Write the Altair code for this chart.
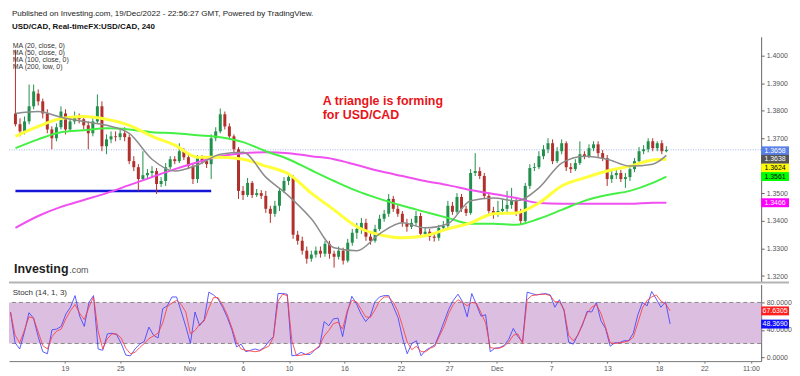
import altair as alt
import pandas as pd

# ---------------- data ----------------
# 8-hour candles, prices in pips (1/10000)
opens = [13790,13751,13725,13761,13816,13862,13834,13790,13732,13700,
         13740,13790,13732,13761,13776,13769,13747,13718,13761,13816,
         13671,13696,13707,13704,13718,13704,13617,13595,13552,13566,
         13574,13581,13534,13545,13595,13624,13617,13653,13631,13599,
         13552,13628,13617,13606,13700,13725,13787,13743,13707,13660,
         13509,13494,13538,13494,13501,13491,13444,13426,13455,13509,
         13545,13559,13350,13328,13292,13263,13278,13292,13281,13317,
         13281,13270,13292,13256,13321,13357,13371,13393,13343,13328,
         13371,13408,13426,13480,13444,13426,13393,13379,13393,13418,
         13353,13361,13343,13339,13375,13382,13455,13433,13487,13444,
         13429,13574,13581,13563,13491,13436,13426,13436,13444,13458,
         13473,13429,13400,13527,13592,13595,13635,13660,13682,13617,
         13653,13682,13595,13588,13610,13642,13635,13664,13678,13646,
         13628,13552,13566,13574,13552,13559,13588,13617,13653,13660,
         13689,13664,13682,13653]
closes = [13751,13725,13761,13816,13870,13834,13790,13732,13700,13740,
          13797,13732,13761,13776,13769,13747,13718,13761,13816,13671,
          13696,13707,13704,13718,13704,13617,13595,13552,13566,13574,
          13581,13534,13545,13595,13624,13617,13653,13631,13599,13552,
          13628,13617,13606,13700,13725,13787,13743,13707,13660,13509,
          13494,13538,13494,13501,13491,13444,13426,13455,13509,13545,
          13559,13350,13328,13292,13263,13278,13292,13281,13317,13281,
          13270,13292,13256,13321,13357,13371,13393,13343,13328,13371,
          13408,13426,13480,13444,13426,13393,13379,13393,13418,13353,
          13361,13343,13339,13375,13382,13455,13433,13487,13444,13429,
          13574,13581,13563,13491,13436,13426,13436,13444,13458,13473,
          13429,13400,13527,13592,13595,13635,13660,13682,13617,13653,
          13682,13595,13588,13610,13642,13635,13664,13678,13646,13628,
          13552,13566,13574,13552,13559,13588,13617,13653,13660,13689,
          13664,13682,13653,13658]
highs = [14021,13772,13779,13895,13895,13877,13844,13805,13743,13754,
         13816,13805,13779,13797,13790,13783,13761,13779,13859,13834,
         13714,13725,13725,13736,13740,13714,13635,13606,13653,13588,
         13599,13592,13559,13610,13635,13635,13682,13664,13646,13610,
         13639,13639,13628,13714,13740,13808,13797,13754,13714,13668,
         13527,13556,13545,13516,13512,13509,13455,13473,13520,13559,
         13570,13566,13364,13343,13307,13292,13307,13307,13328,13328,
         13292,13307,13303,13335,13371,13393,13411,13408,13357,13386,
         13422,13440,13498,13491,13458,13436,13408,13408,13436,13429,
         13375,13371,13357,13386,13400,13473,13469,13501,13498,13455,
         13588,13646,13595,13574,13501,13451,13473,13480,13509,13520,
         13483,13444,13538,13606,13610,13653,13675,13700,13696,13668,
         13696,13689,13610,13624,13689,13653,13678,13689,13689,13657,
         13639,13581,13588,13585,13574,13599,13628,13668,13675,13700,
         13700,13689,13693,13671]
lows = [13743,13707,13714,13751,13805,13819,13772,13718,13660,13689,
        13732,13714,13725,13751,13754,13732,13660,13707,13754,13653,
        13642,13682,13689,13693,13689,13606,13581,13509,13545,13552,
        13559,13498,13523,13527,13588,13606,13610,13621,13588,13534,
        13538,13606,13592,13552,13689,13718,13732,13696,13646,13480,
        13476,13487,13483,13487,13480,13429,13393,13415,13436,13501,
        13530,13335,13314,13278,13245,13252,13267,13267,13270,13263,
        13231,13260,13242,13249,13310,13335,13353,13328,13314,13321,
        13364,13397,13415,13433,13415,13379,13361,13371,13382,13339,
        13343,13328,13325,13328,13364,13371,13422,13426,13433,13418,
        13422,13563,13552,13480,13426,13408,13415,13422,13429,13444,
        13418,13386,13393,13516,13581,13588,13624,13646,13606,13610,
        13642,13581,13574,13581,13603,13624,13628,13653,13631,13617,
        13527,13538,13552,13541,13520,13545,13577,13606,13642,13649,
        13653,13653,13642,13649]

# moving averages, read every 5 bars
ma_bars = [0,5,10,15,20,25,30,35,40,45,50,55,60,65,70,75,80,85,90,95,
           100,105,110,115,120,125,130,135,140,143]
ma20 = [13790,13797,13776,13761,13747,13718,13624,13581,13603,13642,
        13649,13559,13491,13408,13303,13292,13353,13393,13375,13390,
        13473,13483,13473,13520,13610,13635,13624,13599,13606,13638]
ma50 = [13707,13743,13772,13779,13769,13747,13707,13675,13631,13631,
        13624,13599,13570,13501,13440,13379,13350,13339,13346,13371,
        13393,13426,13429,13465,13527,13556,13581,13599,13621,13624]
ma100 = [13664,13696,13722,13729,13736,13732,13722,13718,13711,13704,
         13686,13653,13624,13584,13545,13509,13480,13455,13433,13411,
         13390,13390,13386,13408,13440,13473,13494,13509,13538,13561]
ma200 = [13375,13418,13451,13476,13501,13530,13559,13588,13613,13635,
         13646,13649,13646,13635,13624,13603,13581,13563,13545,13530,
         13512,13498,13483,13465,13462,13462,13462,13462,13466,13466]

# stochastic (14, 1, 3): %K (blue) and %D (red), one value per bar
stoch_k = [66,21,12,36,65,57,30,8,5,40, 41,45,63,73,90,60,45,80,90,12,
           10,34,35,33,20,3,2,12,19,23, 44,32,28,71,75,88,88,67,45,20,
           66,46,55,95,91,85,73,58,40,15, 19,8,10,12,10,14,23,30,93,93,
           92,2,3,7,4,4,11,15,52,46, 56,57,30,65,89,78,63,52,60,81,
           88,90,90,74,58,28,5,20,24,2, 10,14,18,34,52,70,83,92,81,59,
           93,77,60,62,8,13,14,17,26,42, 30,22,95,93,91,92,93,91,73,84,
           68,22,19,33,47,67,66,80,53,42, 16,21,21,24,24,35,62,80,75,96,
           85,73,81,48.369]
stoch_d = [66,32,21,39,59,57,37,17,12,30, 38,41,56,68,77,64,55,73,88,38,
           12,27,34,34,28,13,5,7,14,20, 27,31,35,50,74,79,83,77,66,34,
           39,48,53,72,87,87,76,62,43,22, 12,10,9,8,9,13,16,29,82,92,
           90,24,2,3,4,7,11,17,31,39, 49,51,41,68,83,81,70,59,58,69,
           82,88,88,80,67,45,22,11,16,8, 8,13,16,31,45,64,77,84,80,75,
           80,79,65,50,14,13,13,16,22,32, 34,20,84,90,91,92,92,90,81,81,
           70,32,24,32,49,64,73,77,64,44, 21,20,21,22,24,29,50,72,83,88,
           91,82,78,67.6305]

tick_bars = [11.8, 23.8, 38.8, 50.4, 60.4, 72.4, 84.6, 95.1, 105.4, 117.2,
             129.4, 140.6, 150.4, 160.5]
tick_labels = ["19", "25", "Nov", "6", "10", "16", "22", "27", "Dec", "7",
               "13", "18", "22", "11:00"]

price_ticks = [1.32, 1.33, 1.34, 1.35, 1.37, 1.38, 1.39, 1.40]
stoch_ticks = [0, 40, 80]

last_price = 1.3658
support_bars = [0, 43]
support_price = 1.3509
note_lines = ["A triangle is forming", "for USD/CAD"]
note_bars = [67.5, 67.5]
note_prices = [1.38217, 1.37693]

legend_lines = ["MA (20, close, 0)", "MA (50, close, 0)", "MA (100, close, 0)", "MA (200, low, 0)"]

# label, value, fill, text colour, pixel shift (to avoid overlap)
price_tags = [("1.3658", 1.3658, "#5a7fe6", "#ffffff", 1),
              ("1.3638", 1.3638, "#555555", "#ffffff", 4),
              ("1.3624", 1.3624, "#ffff00", "#000000", 9),
              ("1.3561", 1.3561, "#00ff00", "#000000", 0),
              ("1.3466", 1.3466, "#ff00ff", "#ffffff", 0)]
stoch_tags = [("67.6305", 67.6305, "#ff1f1f", "#ffffff", 0),
              ("48.3690", 48.369, "#1010ff", "#ffffff", 0)]

# ---------------- frames ----------------
candles = pd.DataFrame({
    "bar": list(range(len(closes))),
    "open": [v / 10000 for v in opens],
    "close": [v / 10000 for v in closes],
    "high": [v / 10000 for v in highs],
    "low": [v / 10000 for v in lows],
    "dir": ["up" if c >= o else "down" for o, c in zip(opens, closes)],
})
mas = pd.DataFrame({
    "bar": ma_bars,
    "ma20": [v / 10000 for v in ma20],
    "ma50": [v / 10000 for v in ma50],
    "ma100": [v / 10000 for v in ma100],
    "ma200": [v / 10000 for v in ma200],
})
stoch = pd.DataFrame({"bar": list(range(len(stoch_k))), "k": stoch_k, "d": stoch_d})
support = pd.DataFrame({"b0": [support_bars[0]], "b1": [support_bars[1]], "p": [support_price]})
note = pd.DataFrame({"bar": note_bars, "p": note_prices, "t": note_lines})
one = pd.DataFrame({"a": [0]})

W, HP, HS = 756, 247, 77
FONT = "Liberation Sans"

xs = alt.Scale(domain=[-0.3235, 162.73], nice=False, zero=False)
ys = alt.Scale(domain=[1.317653, 1.406823], nice=False, zero=False)
ss = alt.Scale(domain=[-5.8, 106.2], nice=False, zero=False)

axis_style = dict(labelFontSize=7, labelColor="#555555", domainColor="#666666",
                  tickColor="#666666", tickSize=3, labelPadding=2, title=None,
                  grid=False, labelFont=FONT)
pax = alt.Axis(orient="right", values=price_ticks, format=".4f", **axis_style)
sax = alt.Axis(orient="right", values=stoch_ticks, format=".4f", **axis_style)

expr = "''"
for v, l in reversed(list(zip(tick_bars, tick_labels))):
    expr = f"datum.value == {v} ? '{l}' : ({expr})"
xax = alt.Axis(values=tick_bars, labelExpr=expr, title=None, grid=False,
               labelFontSize=7, labelColor="#555555", domainColor="#777777",
               tickColor="#777777", tickSize=2, labelPadding=1, labelFont=FONT,
               labelOverlap=False, labelFlush=False,
               labelFontWeight={"condition": {"test": "datum.label == 'Nov' || datum.label == 'Dec'",
                                              "value": "bold"}, "value": "normal"})


def PX(f):
    return alt.X(f, type="quantitative", scale=xs, axis=None)


def PY(f):
    return alt.Y(f, type="quantitative", scale=ys, axis=pax)


def SX(f):
    return alt.X(f, type="quantitative", scale=xs, axis=xax)


def SY(f):
    return alt.Y(f, type="quantitative", scale=ss, axis=sax)


color = alt.Color("dir:N", scale=alt.Scale(domain=["up", "down"], range=["#22904c", "#b2302b"]),
                  legend=None)

tag_path = "M-1,-0.32L1,-0.32L1,0.32L-1,0.32Z"


def tag_layers(tags, yfn):
    out = []
    for label, v, fill, tc, off in tags:
        d = pd.DataFrame({"v": [v]})
        out.append(alt.Chart(d).mark_point(shape=tag_path, size=784, filled=True, color=fill,
                                           opacity=1, strokeWidth=0, yOffset=off)
                   .encode(x=alt.value(770), y=yfn("v")))
        out.append(alt.Chart(d).mark_text(text=label, fontSize=7, color=tc, align="center",
                                          baseline="middle", yOffset=off, font=FONT)
                   .encode(x=alt.value(770), y=yfn("v")))
    return out


# ---------------- price pane ----------------
last_line = alt.Chart(pd.DataFrame({"v": [last_price]})).mark_rule(
    color="#9fb5ee", strokeDash=[1, 1.5], strokeWidth=1).encode(y=PY("v"))
support_line = alt.Chart(support).mark_rule(color="#1515d6", strokeWidth=2.5).encode(
    x=PX("b0"), x2="b1", y=PY("p"))
wicks = alt.Chart(candles).mark_rule(strokeWidth=1).encode(
    x=PX("bar"), y=PY("low"), y2="high", color=color)
bodies = alt.Chart(candles).mark_bar(width=3).encode(
    x=PX("bar"), y=PY("open"), y2="close", color=color)
ma_layers = []
for f, c, w in [("ma200", "#f050f0", 2), ("ma100", "#44f044", 2),
                ("ma50", "#ffff3a", 3), ("ma20", "#8c8c8c", 1.5)]:
    ma_layers.append(alt.Chart(mas).mark_line(color=c, strokeWidth=w, interpolate="monotone")
                     .encode(x=PX("bar"), y=PY(f)))
note_text = alt.Chart(note).mark_text(
    align="left", baseline="alphabetic", fontSize=12.5, fontWeight="bold",
    color="#e8141a", font=FONT
).encode(x=PX("bar"), y=PY("p"), text="t:N")
legend_text = [
    alt.Chart(one).mark_text(text=t, align="left", baseline="alphabetic", fontSize=7,
                             color="#333333", font=FONT)
    .encode(x=alt.value(3.7), y=alt.value(11.2 + 7 * i))
    for i, t in enumerate(legend_lines)
]
logo1 = alt.Chart(one).mark_text(text="Investing", align="left", baseline="alphabetic",
                                 fontSize=12.5, fontWeight="bold", color="#1e1e1e", font=FONT
                                 ).encode(x=alt.value(5), y=alt.value(237))
logo2 = alt.Chart(one).mark_text(text=".com", align="left", baseline="alphabetic",
                                 fontSize=9, color="#555555", font=FONT
                                 ).encode(x=alt.value(60.5), y=alt.value(237))
separator = alt.Chart(one).mark_rule(color="#b4b4b4", strokeWidth=2).encode(
    x=alt.value(0), x2=alt.value(784), y=alt.value(247))

price = alt.layer(
    last_line, support_line, wicks, bodies, *ma_layers, note_text, *legend_text,
    logo1, logo2, separator, *tag_layers(price_tags, PY)
).properties(
    width=W, height=HP,
    title=alt.TitleParams(
        text="Published on Investing.com, 19/Dec/2022 - 22:56:27 GMT, Powered by TradingView.",
        subtitle="USD/CAD, Real-timeFX:USD/CAD, 240", anchor="start", fontSize=8.1,
        fontWeight="normal", color="#222222", subtitleFontSize=8, subtitleFontWeight="bold",
        subtitleColor="#111111", subtitlePadding=5, offset=6, dx=4, font=FONT, subtitleFont=FONT)
)

# ---------------- stochastic pane ----------------
band = alt.Chart(one).mark_rect(color="#dcbfe0").encode(
    y=alt.YDatum(20, scale=ss, axis=sax), y2=alt.datum(80))
levels = [alt.Chart(one).mark_rule(color="#8a8a8a", strokeDash=[4, 3], strokeWidth=1)
          .encode(y=alt.YDatum(v, scale=ss, axis=sax)) for v in (20, 80)]
k_line = alt.Chart(stoch).mark_line(color="#4040ff", strokeWidth=1, opacity=0.85).encode(
    x=SX("bar"), y=SY("k"))
d_line = alt.Chart(stoch).mark_line(color="#ff3b3b", strokeWidth=1, opacity=0.85).encode(
    x=SX("bar"), y=SY("d"))
stoch_label = alt.Chart(one).mark_text(text="Stoch (14, 1, 3)", align="left",
                                       baseline="alphabetic", fontSize=8, color="#333333",
                                       font=FONT).encode(x=alt.value(3.7), y=alt.value(10.7))

stoch_chart = alt.layer(
    band, *levels, k_line, d_line, stoch_label, *tag_layers(stoch_tags, SY)
).properties(width=W, height=HS)

chart = alt.vconcat(price, stoch_chart, spacing=2, bounds="flush").properties(
    padding=0, background="white"
).configure(font=FONT).configure_view(strokeWidth=0)

chart.save("out.html", embed_options={"renderer": "svg", "actions": False})
